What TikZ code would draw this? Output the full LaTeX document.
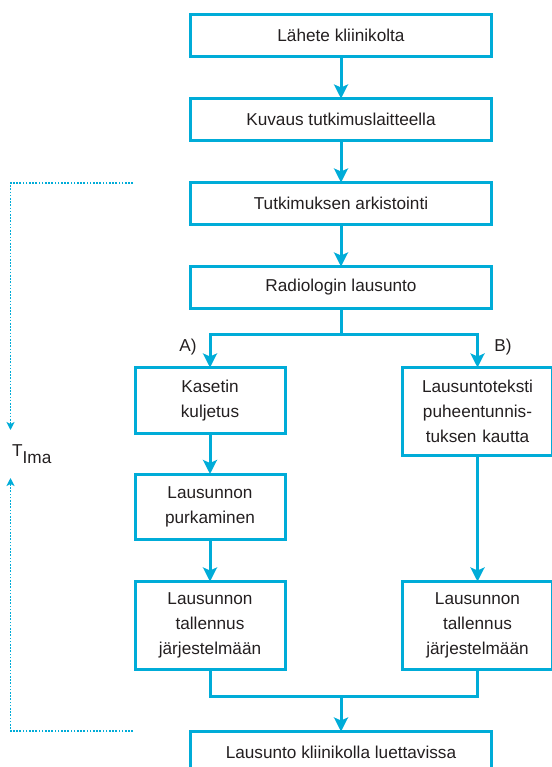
\documentclass[tikz,border=0pt]{standalone}
\usepackage{fontspec}
\setmainfont{Liberation Sans}
\usepackage{xcolor}
\usepackage{tikz}
\usetikzlibrary{%
  arrows.meta,
  positioning,
  calc}
\definecolor{flowcyan}{RGB}{0,172,216}
\definecolor{flowtext}{RGB}{35,31,32}
\tikzset{
  %% Wide boxes of the main chain
  mainbox/.style={
    rectangle, draw=flowcyan, line width=3pt,
    minimum width=301pt, minimum height=42pt,
    inner sep=0pt, outer sep=0pt,
    text=flowtext, align=center,
    font=\fontsize{17.2}{25}\selectfont},
  %% Narrow branch boxes
  subbox/.style={
    rectangle, draw=flowcyan, line width=3pt,
    minimum width=150pt, minimum height=65.5pt,
    text width=140pt, inner sep=0pt, outer sep=0pt,
    text=flowtext, align=center,
    font=\fontsize{17.2}{25}\selectfont},
  tallbox/.style={subbox, minimum height=88pt},
  %% Branch labels
  lbl/.style={text=flowtext, inner sep=0pt,
    font=\fontsize{17.2}{25}\selectfont},
  %% Arrows
  arrow/.style={-{Stealth[length=14pt,width=14pt,inset=3pt]},
    line width=3pt, flowcyan},
  line/.style={line width=3pt, flowcyan},
  dotarrow/.style={-{Stealth[length=8pt,width=8pt,inset=2pt]},
    line width=1.6pt, flowcyan, dash pattern=on 1.6pt off 1.6pt},
}
\begin{document}
\begin{tikzpicture}[x=1pt, y=1pt]

  \useasboundingbox (0,0) rectangle (551,-767);

  %% Main chain
  \node[mainbox] (lahete) at (341,-35.5) {Lähete kliinikolta};
  \node[mainbox, below=42pt of lahete] (kuvaus)  {Kuvaus tutkimuslaitteella};
  \node[mainbox, below=42pt of kuvaus] (arkisto) {Tutkimuksen arkistointi};
  \node[mainbox, below=42pt of arkisto](radio)   {Radiologin lausunto};

  \draw[arrow] (lahete)  -- (kuvaus);
  \draw[arrow] (kuvaus)  -- (arkisto);
  \draw[arrow] (arkisto) -- (radio);

  %% Branch A
  \node[subbox, below=59pt of radio, xshift=-131pt] (kasetti) {Kasetin\\ kuljetus};
  \node[subbox, below=41pt of kasetti] (purku) {Lausunnon\\ purkaminen};
  \node[tallbox, below=42pt of purku] (tallA) {Lausunnon\\ tallennus\\ järjestelmään};

  %% Branch B
  \node[tallbox, below=59pt of radio, xshift=136.5pt] (puhe)
    {Lausuntoteksti\\ puheentunnis-\\ tuksen kautta};
  \node[tallbox] (tallB) at (tallA -| puhe) {Lausunnon\\ tallennus\\ järjestelmään};

  %% Result
  \node[mainbox, below=62pt of tallA, xshift=131pt] (final) {Lausunto kliinikolla luettavissa};

  %% Split and join
  \coordinate[below=25.5pt of radio] (split);
  \coordinate[above=35.5pt of final] (join);

  \draw[line]  (radio) -- (split);
  \draw[arrow] (split) -| (kasetti);
  \draw[arrow] (split) -| (puhe);
  \draw[arrow] (kasetti) -- (purku);
  \draw[arrow] (purku)   -- (tallA);
  \draw[arrow] (puhe)    -- (tallB);
  \draw[line]  (tallA) |- (join);
  \draw[line]  (tallB) |- (join);
  \draw[arrow] (join)  -- (final);

  \node[lbl] (labA) at (188,-347) {A)};
  \node[lbl] (labB) at (503,-347) {B)};

  %% Time span on the left
  \node[lbl, anchor=north west] (tima) at (12,-444)
    {T\raisebox{-7pt}{Ima}};
  \coordinate (dtop) at (133,-183);
  \coordinate (dbot) at (133,-731);
  \coordinate (tup)   at (10.5,-430);
  \coordinate (tdown) at (10.5,-478);

  \draw[dotarrow] (dtop) -| (tup);
  \draw[dotarrow] (dbot) -| (tdown);

\end{tikzpicture}
\end{document}
